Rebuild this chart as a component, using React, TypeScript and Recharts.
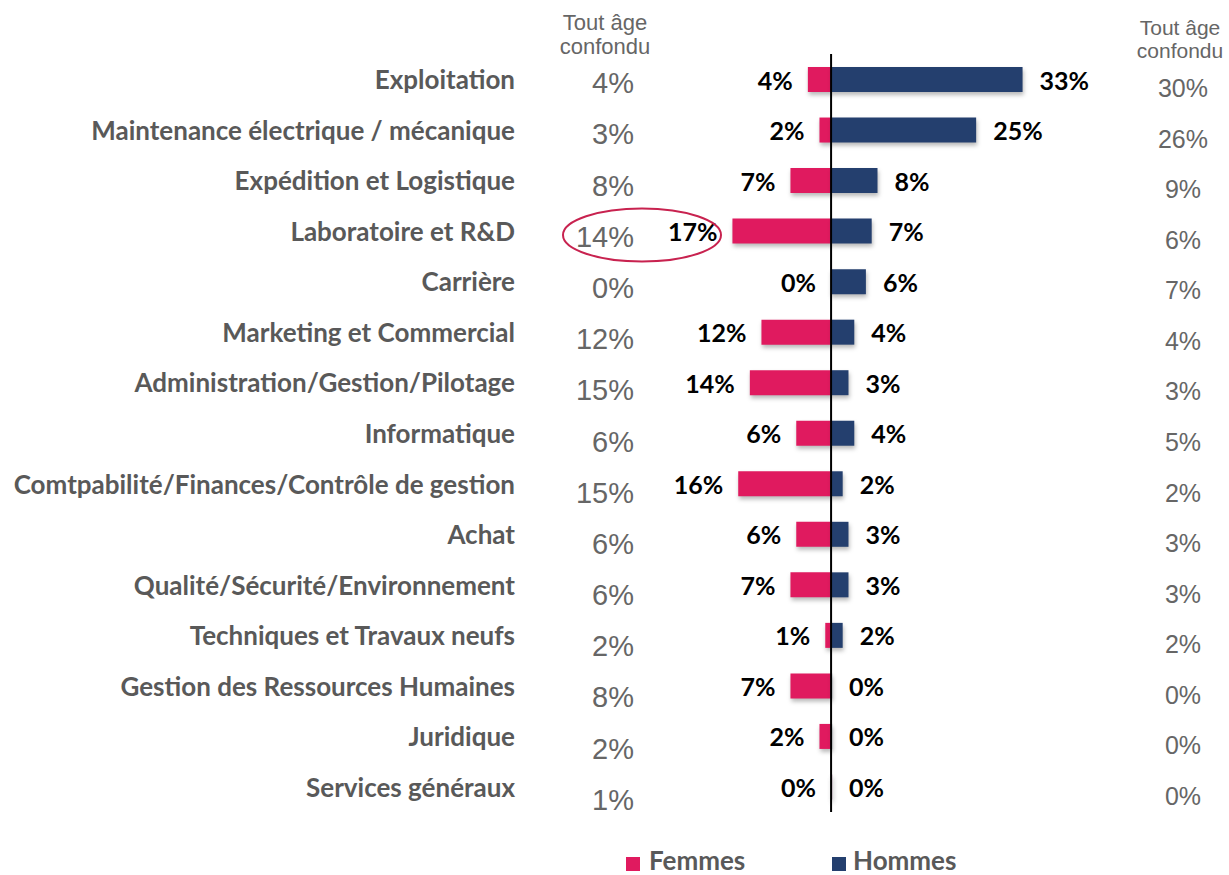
import React from "react";
import { Bar, BarChart, LabelList, ReferenceLine, XAxis, YAxis } from "recharts";

const CATEGORIES = [
  "Exploitation",
  "Maintenance électrique / mécanique",
  "Expédition et Logistique",
  "Laboratoire et R&D",
  "Carrière",
  "Marketing et Commercial",
  "Administration/Gestion/Pilotage",
  "Informatique",
  "Comtpabilité/Finances/Contrôle de gestion",
  "Achat",
  "Qualité/Sécurité/Environnement",
  "Techniques et Travaux neufs",
  "Gestion des Ressources Humaines",
  "Juridique",
  "Services généraux",
];
const FEMMES = [4, 2, 7, 17, 0, 12, 14, 6, 16, 6, 7, 1, 7, 2, 0];
const HOMMES = [33, 25, 8, 7, 6, 4, 3, 4, 2, 3, 3, 2, 0, 0, 0];
// "Tout âge confondu" columns
const FEMMES_ALL = [4, 3, 8, 14, 0, 12, 15, 6, 15, 6, 6, 2, 8, 2, 1];
const HOMMES_ALL = [30, 26, 9, 6, 7, 4, 3, 5, 2, 3, 3, 2, 0, 0, 0];

const PINK = "#e01a5f";
const NAVY = "#243f6e";
const GREY = "#595959";
const LIGHT_GREY = "#666666";
const BOLD_FONT = "Lato, 'Noto Sans', sans-serif";
const PLAIN_FONT = "'Liberation Sans', Arial, sans-serif";

const data = CATEGORIES.map((name, i) => ({
  name,
  femmes: -FEMMES[i],
  hommes: HOMMES[i],
}));

// category name + both "tout âge" columns, one row per tick
const RowTick = (props: any) => {
  const { y, payload, index } = props;
  return (
    <g>
      <text
        x={515}
        y={y}
        textAnchor="end"
        dominantBaseline="central"
        fontFamily={BOLD_FONT}
        fontWeight={700}
        fontSize={26}
        fill={GREY}
      >
        {payload.value}
      </text>
      <text
        x={634}
        y={y + 4 + index * 0.65}
        textAnchor="end"
        dominantBaseline="central"
        fontFamily={PLAIN_FONT}
        fontSize={29}
        fill={LIGHT_GREY}
      >
        {`${FEMMES_ALL[index]}%`}
      </text>
      <text
        x={1183}
        y={y + 9}
        textAnchor="middle"
        dominantBaseline="central"
        fontFamily={PLAIN_FONT}
        fontSize={25}
        fill={LIGHT_GREY}
      >
        {`${HOMMES_ALL[index]}%`}
      </text>
    </g>
  );
};

const valueLabel = (side: "left" | "right") => (props: any) => {
  const { x, y, width, height, value } = props;
  const left = Math.min(x, x + width);
  const right = Math.max(x, x + width);
  return (
    <text
      x={side === "left" ? Math.min(left, 831) - 15 : Math.max(right, 831) + 17}
      y={y + height / 2}
      textAnchor={side === "left" ? "end" : "start"}
      dominantBaseline="central"
      fontFamily={BOLD_FONT}
      fontWeight={700}
      fontSize={25}
      fill="#000"
    >
      {`${Math.abs(value)}%`}
    </text>
  );
};

const SHADOW = { filter: "drop-shadow(1px 3px 2px rgba(0,0,0,0.28))" };

export default function App() {
  return (
    <div style={{ position: "absolute", left: 0, top: 0, width: 1229, height: 875 }}>
      <BarChart
        width={1229}
        height={875}
        data={data}
        layout="vertical"
        stackOffset="sign"
        margin={{ top: 54, right: 131, bottom: 63, left: 0 }}
      >
        <XAxis type="number" domain={[-30, 46]} hide />
        <YAxis
          type="category"
          dataKey="name"
          width={657}
          axisLine={false}
          tickLine={false}
          interval={0}
          tick={<RowTick />}
        />
        <Bar
          dataKey="femmes"
          stackId="a"
          fill={PINK}
          barSize={25}
          minPointSize={1}
          isAnimationActive={false}
          style={SHADOW}
        >
          <LabelList dataKey="femmes" content={valueLabel("left")} />
        </Bar>
        <Bar
          dataKey="hommes"
          stackId="a"
          fill={NAVY}
          barSize={25}
          minPointSize={1}
          isAnimationActive={false}
          style={SHADOW}
        >
          <LabelList dataKey="hommes" content={valueLabel("right")} />
        </Bar>
        <ReferenceLine x={0} stroke="#000" strokeWidth={2} />
      </BarChart>
      <svg
        width={1229}
        height={875}
        style={{ position: "absolute", left: 0, top: 0, pointerEvents: "none" }}
      >
        <ellipse cx={642} cy={235} rx={79} ry={26.5} fill="none" stroke="#c8224f" strokeWidth={2} />
        <g fontFamily={PLAIN_FONT} fill={LIGHT_GREY} textAnchor="middle">
          <text x={605} y={30} fontSize={22}>Tout âge</text>
          <text x={605} y={54} fontSize={22}>confondu</text>
          <text x={1180} y={35} fontSize={21}>Tout âge</text>
          <text x={1180} y={58} fontSize={21}>confondu</text>
        </g>
        <g fontFamily={BOLD_FONT} fontWeight={700} fontSize={26} fill={GREY}>
          <rect x={626} y={857} width={14} height={14} fill={PINK} />
          <text x={649} y={860} dominantBaseline="central">Femmes</text>
          <rect x={832} y={857} width={14} height={14} fill={NAVY} />
          <text x={853} y={860} dominantBaseline="central">Hommes</text>
        </g>
      </svg>
    </div>
  );
}
